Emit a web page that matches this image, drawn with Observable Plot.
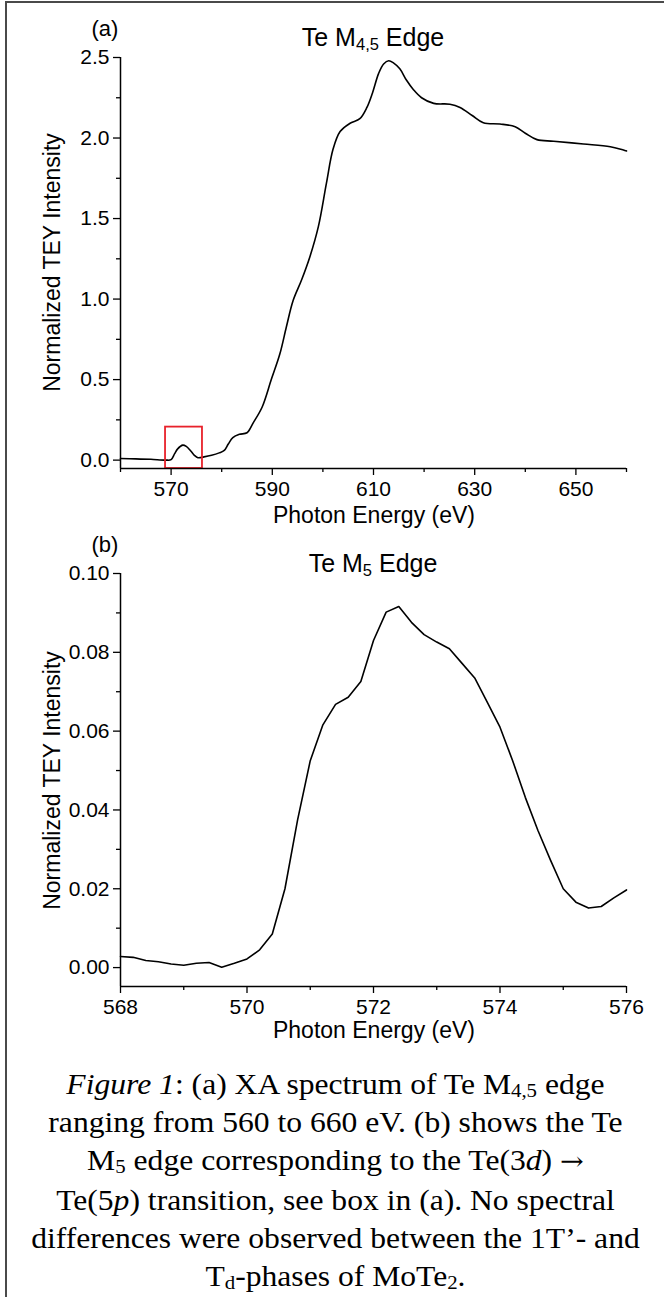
<!DOCTYPE html>
<html>
<head>
<meta charset="utf-8">
<script src="https://cdn.jsdelivr.net/npm/d3@7"></script>
<script src="https://cdn.jsdelivr.net/npm/@observablehq/plot@0.6"></script>
<style>
  html, body { margin: 0; padding: 0; background: #fff; }
  #fig { position: relative; width: 664px; height: 1297px; overflow: hidden; background: #fff; }
  #frame { position: absolute; left: 5px; top: 1px; right: -10px; bottom: -10px;
           border-left: 2.5px solid #4a4a4a; border-top: 2.5px solid #4a4a4a; }
  .panel { position: absolute; left: 0; }
  .txt { position: absolute; white-space: nowrap; line-height: 1; color: #000;
         font-family: "Liberation Sans", Arial, sans-serif; z-index: 5; text-align: center; }
  .txt sub { font-size: 0.66em; line-height: 0; vertical-align: baseline; position: relative; top: 0.28em; }
  #caption { position: absolute; left: 7px; width: 657px; top: 1065px; text-align: center;
             font-family: "Liberation Serif", "Times New Roman", serif; font-size: 29px;
             line-height: 38.2px; color: #000; z-index: 5; white-space: nowrap;
             transform: scaleX(1.09); transform-origin: 50% 50%; }
  #caption sub { font-size: 0.66em; line-height: 0; vertical-align: baseline; position: relative; top: 0.14em; }
  #caption .arr { font-family: "DejaVu Serif", serif; font-size: 0.9em; }
</style>
</head>
<body>
<div id="fig">
  <div id="frame"></div>
</div>
<script>
// ---------- Data ----------
// Panel (a): Te M4,5 edge, 560-660 eV
const energyA = [560, 563, 566, 569, 570, 570.7, 571.3, 572.3, 573, 573.8, 574.6, 575.3, 576.5, 578, 579.5,
  580.5, 581.3, 582.2, 583.5, 585, 586.2, 588, 589.8, 591.5, 592.8, 594.1, 595.8, 597.4, 599.1, 600.7,
  602, 603.4, 605.3, 607.3, 608.7, 609.8, 611, 612, 613, 614, 615.2, 616.5, 617.9, 619.5, 621.9,
  625.1, 627.1, 629.5, 631.7, 635, 638, 640, 642.3, 645.6, 651.5, 656.8, 660];
const intensityA = [0.01, 0.008, 0.005, 0.0, 0.003, 0.04, 0.07, 0.093, 0.085, 0.06, 0.03, 0.015, 0.02, 0.03, 0.045,
  0.06, 0.10, 0.14, 0.16, 0.17, 0.23, 0.33, 0.50, 0.66, 0.83, 0.99, 1.12, 1.26, 1.45, 1.72,
  1.93, 2.04, 2.09, 2.12, 2.19, 2.28, 2.40, 2.46, 2.48, 2.465, 2.43, 2.36, 2.30, 2.25, 2.215,
  2.21, 2.19, 2.14, 2.095, 2.087, 2.07, 2.03, 1.99, 1.98, 1.963, 1.946, 1.92];

// Panel (b): Te M5 edge, 568-576 eV
const energyB = [568.0, 568.2, 568.4, 568.6, 568.8, 569.0, 569.2, 569.4, 569.6, 569.8,
  570.0, 570.2, 570.4, 570.6, 570.8, 571.0, 571.2, 571.4, 571.6, 571.8,
  572.0, 572.2, 572.4, 572.6, 572.8, 573.0, 573.2, 573.4, 573.6, 573.8,
  574.0, 574.2, 574.4, 574.6, 574.8, 575.0, 575.2, 575.4, 575.6, 575.8, 576.0];
const intensityB = [0.0028, 0.0026, 0.0018, 0.0015, 0.0009, 0.0006, 0.0011, 0.0013, 0.0001, 0.0011,
  0.0022, 0.0045, 0.0085, 0.0200, 0.0375, 0.0525, 0.0616, 0.0668, 0.0686, 0.0726,
  0.0830, 0.0902, 0.0916, 0.0876, 0.0845, 0.0826, 0.0809, 0.0772, 0.0735, 0.0673,
  0.0610, 0.0525, 0.0432, 0.0348, 0.0272, 0.0200, 0.0166, 0.0151, 0.0155, 0.0177, 0.0197];

// Highlight box in (a)
const boxEnergy = [568.9, 576.2];
const boxIntensity = [-0.052, 0.205];

// Axis domains & ticks
const xDomainA = [560, 660];
const yDomainA = [-0.052, 2.5];
const xTicksA = [570, 590, 610, 630, 650];
const xMinorA = [560, 580, 600, 620, 640, 660];
const yTicksA = [0, 0.5, 1.0, 1.5, 2.0, 2.5];
const yMinorA = [0.25, 0.75, 1.25, 1.75, 2.25];

const xDomainB = [568, 576];
const yDomainB = [-0.0048, 0.10];
const xTicksB = [568, 570, 572, 574, 576];
const xMinorB = [569, 571, 573, 575];
const yTicksB = [0, 0.02, 0.04, 0.06, 0.08, 0.10];
const yMinorB = [0.01, 0.03, 0.05, 0.07, 0.09];

// Texts
const panelLabels = ["(a)", "(b)"];
const titles = ["Te M<sub>4,5</sub> Edge", "Te M<sub>5</sub> Edge"];
const xLabel = "Photon Energy (eV)";
const yLabel = "Normalized TEY Intensity";
const captionLines = [
  "<i>Figure 1</i>: (a) XA spectrum of Te M<sub>4,5</sub> edge",
  "ranging from 560 to 660 eV. (b) shows the Te",
  "M<sub>5</sub> edge corresponding to the Te(3<i>d</i>) <span class=\"arr\">\u2192</span>",
  "Te(5<i>p</i>) transition, see box in (a). No spectral",
  "differences were observed between the 1T\u2019- and",
  "T<sub>d</sub>-phases of MoTe<sub>2</sub>."
];

// ---------- Build ----------
const fig = document.getElementById("fig");
const FONT = "'Liberation Sans', Arial, sans-serif";

function panel({energy, intensity, xDomain, yDomain, xTicks, xMinor, yTicks, yMinor, yFmt, curve, top, height, mt, mb, extra}) {
  const data = energy.map((e, i) => ({e, v: intensity[i]}));
  const marks = [
    Plot.line(data, {x: "e", y: "v", stroke: "#000", strokeWidth: 1.6, curve}),
    ...(extra || []),
    Plot.ruleY([yDomain[0]], {stroke: "#000", strokeWidth: 1.5}),
    Plot.ruleX([xDomain[0]], {stroke: "#000", strokeWidth: 1.5}),
    Plot.axisX(xTicks, {tickSize: 7, tickPadding: 6, tickFormat: d3.format("d"), label: null, fontSize: 21, strokeWidth: 1.3}),
    Plot.axisX(xMinor, {tickSize: 4, tickFormat: () => "", label: null, strokeWidth: 1.3}),
    Plot.axisY(yTicks, {tickSize: 7, tickPadding: 4, tickFormat: d3.format(yFmt), label: null, fontSize: 21, strokeWidth: 1.3}),
    Plot.axisY(yMinor, {tickSize: 4, tickFormat: () => "", label: null, strokeWidth: 1.3})
  ];
  const svg = Plot.plot({
    width: 664, height,
    marginLeft: 120, marginRight: 38, marginTop: mt, marginBottom: mb,
    x: {domain: xDomain},
    y: {domain: yDomain},
    style: {fontFamily: FONT, fontSize: "21px", color: "#000", background: "transparent", overflow: "visible"},
    marks
  });
  svg.classList.add("panel");
  svg.style.top = top + "px";
  fig.appendChild(svg);
}

panel({
  energy: energyA, intensity: intensityA, xDomain: xDomainA, yDomain: yDomainA,
  xTicks: xTicksA, xMinor: xMinorA, yTicks: yTicksA, yMinor: yMinorA, yFmt: ".1f",
  curve: "catmull-rom", top: 0, height: 510, mt: 57, mb: 42,
  extra: [Plot.rect([{x1: boxEnergy[0], x2: boxEnergy[1], y1: boxIntensity[0], y2: boxIntensity[1]}],
    {x1: "x1", x2: "x2", y1: "y1", y2: "y2", fill: "none", stroke: "#e8222b", strokeWidth: 1.8})]
});

panel({
  energy: energyB, intensity: intensityB, xDomain: xDomainB, yDomain: yDomainB,
  xTicks: xTicksB, xMinor: xMinorB, yTicks: yTicksB, yMinor: yMinorB, yFmt: ".2f",
  curve: "linear", top: 520, height: 520, mt: 53, mb: 54
});

// HTML text helper: centered at cx, with given baseline
function addText(html, cx, baseline, size, rotate) {
  const d = document.createElement("div");
  d.className = "txt";
  d.innerHTML = html;
  d.style.fontSize = size + "px";
  d.style.width = "600px";
  d.style.left = (cx - 300) + "px";
  if (rotate) {
    d.style.top = (baseline - size / 2) + "px";
    d.style.height = size + "px";
    d.style.transform = "rotate(-90deg)";
    d.style.transformOrigin = "50% 50%";
  } else {
    d.style.top = (baseline - 0.8465 * size) + "px";
  }
  fig.appendChild(d);
}

addText(panelLabels[0], 105, 37, 22);
addText(titles[0], 373, 46, 25);
addText(xLabel, 374, 523, 23);
addText(yLabel, 52, 262, 23, true);

addText(panelLabels[1], 105, 553, 22);
addText(titles[1], 373, 572, 25);
addText(xLabel, 374, 1038, 23);
addText(yLabel, 52, 780, 23, true);

const cap = document.createElement("div");
cap.id = "caption";
cap.innerHTML = captionLines.join("<br>");
fig.appendChild(cap);
</script>
</body>
</html>
